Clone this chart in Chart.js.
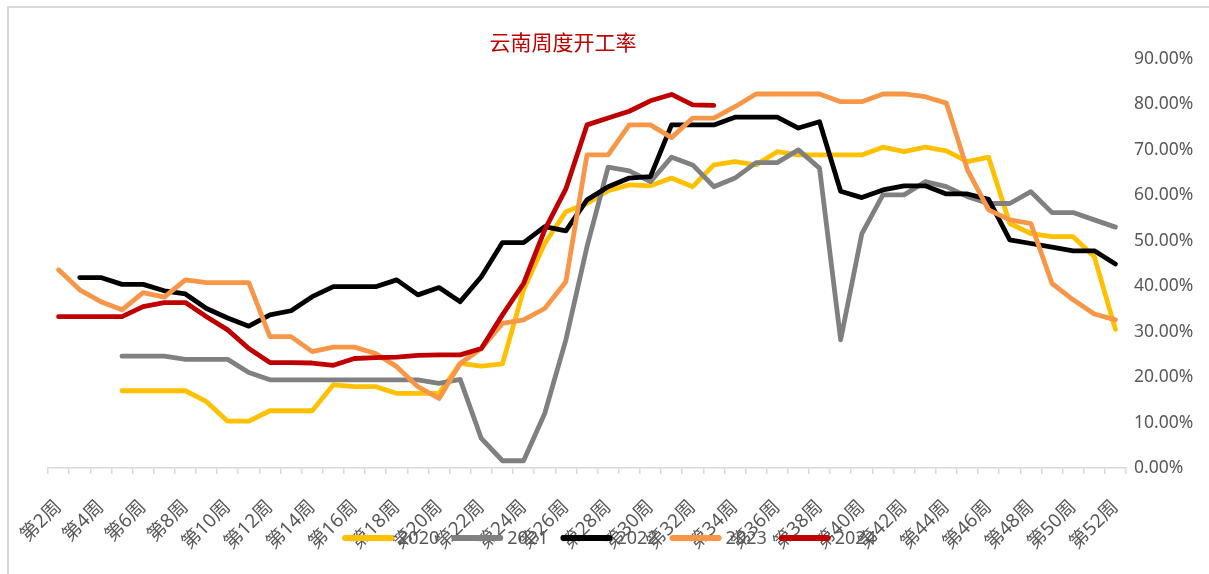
<!DOCTYPE html>
<html>
<head>
<meta charset="utf-8">
<script src="https://cdn.jsdelivr.net/npm/chart.js@4/dist/chart.umd.min.js"></script>
<style>
  html, body { margin: 0; padding: 0; background: #ffffff; }
  #wrap { position: relative; width: 1209px; height: 574px; }
  canvas { display: block; }
</style>
</head>
<body>
<div id="wrap"><canvas id="c" width="1209" height="574"></canvas></div>
<script>
// ---- data (weeks 2..52) ----
const weeks = [];
for (let w = 2; w <= 52; w++) weeks.push('第' + w + '周');

const seriesNames = ['2020', '2021', '2022', '2023', '2024'];

const y2020 = [null, null, null, 17.0, 17.0, 17.0, 17.0, 14.6, 10.3, 10.3, 12.6, 12.6, 12.6, 18.3, 17.9, 17.9, 16.4, 16.4, 16.4, 23.0, 22.4, 22.9, 39.2, 49.4, 56.4, 58.2, 61.0, 62.3, 62.1, 63.8, 61.9, 66.7, 67.4, 66.7, 69.6, 68.9, 68.9, 68.9, 68.9, 70.6, 69.6, 70.6, 69.8, 67.4, 68.4, 53.8, 51.6, 50.9, 50.9, 46.5, 30.5];
const y2021 = [null, null, null, 24.6, 24.6, 24.6, 23.9, 23.9, 23.9, 21.0, 19.4, 19.4, 19.4, 19.4, 19.4, 19.4, 19.4, 19.4, 18.6, 19.5, 6.5, 1.6, 1.6, 12.0, 28.2, 48.7, 66.2, 65.4, 63.0, 68.4, 66.7, 61.9, 63.8, 67.2, 67.2, 70.0, 66.0, 28.2, 51.5, 60.1, 60.1, 63.0, 61.9, 59.7, 58.2, 58.2, 60.8, 56.2, 56.2, 54.6, 53.0];
const y2022 = [null, 41.9, 41.9, 40.4, 40.4, 39.0, 38.3, 35.1, 33.0, 31.2, 33.7, 34.6, 37.7, 39.9, 39.9, 39.9, 41.4, 38.1, 39.7, 36.6, 42.1, 49.6, 49.6, 53.1, 52.2, 59.0, 61.9, 63.8, 64.1, 75.5, 75.5, 75.5, 77.2, 77.2, 77.2, 74.8, 76.2, 60.9, 59.5, 61.2, 62.1, 62.1, 60.3, 60.3, 59.1, 50.2, 49.4, 48.6, 47.8, 47.8, 44.9];
const y2023 = [43.6, 39.2, 36.6, 34.8, 38.6, 37.6, 41.4, 40.8, 40.8, 40.8, 28.9, 28.9, 25.6, 26.6, 26.6, 25.2, 22.3, 17.9, 15.3, 23.0, 26.3, 31.8, 32.6, 35.1, 41.0, 68.9, 68.9, 75.5, 75.5, 72.7, 77.0, 77.0, 79.5, 82.3, 82.3, 82.3, 82.3, 80.6, 80.6, 82.3, 82.3, 81.7, 80.3, 65.6, 56.8, 54.6, 53.8, 40.6, 37.0, 33.9, 32.6];
const y2024 = [33.3, 33.3, 33.3, 33.3, 35.5, 36.4, 36.4, 33.3, 30.4, 26.3, 23.2, 23.2, 23.1, 22.6, 24.1, 24.3, 24.4, 24.8, 24.9, 24.9, 26.3, 33.7, 40.6, 52.4, 61.4, 75.5, 77.0, 78.5, 80.8, 82.2, 79.9, 79.8];

const yTicksMax = 90;
const yTickStep = 10;

const colors = ['#FFC000', '#808080', '#000000', '#F79646', '#C00000'];
const seriesData = [y2020, y2021, y2022, y2023, y2024];

const datasets = seriesNames.map((name, i) => ({
  label: name,
  data: seriesData[i],
  borderColor: colors[i],
  backgroundColor: colors[i],
  borderWidth: 4.8,
  pointRadius: 0,
  pointHoverRadius: 0,
  tension: 0,
  fill: false,
  spanGaps: false,
  borderJoinStyle: 'round',
  borderCapStyle: 'round',
  order: seriesNames.length - i
}));

const overlay = {
  id: 'overlay',
  beforeDraw(chart) {
    const ctx = chart.ctx;
    ctx.save();
    ctx.strokeStyle = '#d9d9d9';
    ctx.lineWidth = 2;
    ctx.beginPath();
    ctx.moveTo(8, 574);
    ctx.lineTo(8, 7);
    ctx.lineTo(1209, 7);
    ctx.stroke();
    ctx.restore();
  },
  afterDraw(chart) {
    const ctx = chart.ctx;
    ctx.save();
    // title
    ctx.fillStyle = '#C00000';
    ctx.font = "21px 'Noto Sans CJK SC'";
    ctx.textAlign = 'center';
    ctx.textBaseline = 'middle';
    ctx.fillText('云南周度开工率', 563, 42);
    // legend
    ctx.font = "18px 'Noto Sans'";
    const lineLen = 52, gap = 4, itemGap = 12;
    const items = chart.data.datasets.map(ds => ({
      text: ds.label, color: ds.borderColor, w: lineLen + gap + ctx.measureText(ds.label).width
    }));
    const total = items.reduce((s, it) => s + it.w, 0) + itemGap * (items.length - 1);
    let x = 609 - total / 2;
    const y = 538;
    items.forEach(it => {
      ctx.strokeStyle = it.color;
      ctx.lineWidth = 6;
      ctx.lineCap = 'round';
      ctx.beginPath();
      ctx.moveTo(x + 3, y);
      ctx.lineTo(x + lineLen - 3, y);
      ctx.stroke();
      ctx.fillStyle = '#595959';
      ctx.textAlign = 'left';
      ctx.textBaseline = 'middle';
      ctx.fillText(it.text, x + lineLen + gap, y + 1);
      x += it.w + itemGap;
    });
    ctx.restore();
  }
};

new Chart(document.getElementById('c'), {
  type: 'line',
  data: { labels: weeks, datasets },
  options: {
    responsive: false,
    animation: false,
    events: [],
    layout: { padding: { left: 48, top: 59, right: 0, bottom: 0 } },
    plugins: {
      legend: { display: false },
      title: { display: false },
      tooltip: { enabled: false }
    },
    scales: {
      x: {
        type: 'category',
        offset: true,
        grid: {
          display: true,
          drawOnChartArea: false,
          drawTicks: true,
          tickLength: 6,
          color: '#d9d9d9',
          lineWidth: 1.5,
          offset: true
        },
        border: { display: true, color: '#d9d9d9', width: 1.5 },
        ticks: {
          autoSkip: false,
          maxRotation: 45,
          minRotation: 45,
          padding: 22,
          color: '#595959',
          font: { size: 19, family: "'Noto Sans', 'Noto Sans CJK SC'" },
          callback: function (val, idx) { return idx % 2 === 0 ? this.getLabelForValue(val) : ''; }
        },
        afterFit(scale) { scale.height = 106; }
      },
      y: {
        position: 'right',
        min: 0,
        max: yTicksMax,
        grid: { display: false },
        border: { display: false },
        ticks: {
          stepSize: yTickStep,
          padding: 0,
          color: '#595959',
          font: { size: 17.5, family: "'Noto Sans'" },
          callback: v => v.toFixed(2) + '%'
        },
        afterFit(scale) { scale.width = 83; }
      }
    }
  },
  plugins: [overlay]
});
</script>
</body>
</html>
